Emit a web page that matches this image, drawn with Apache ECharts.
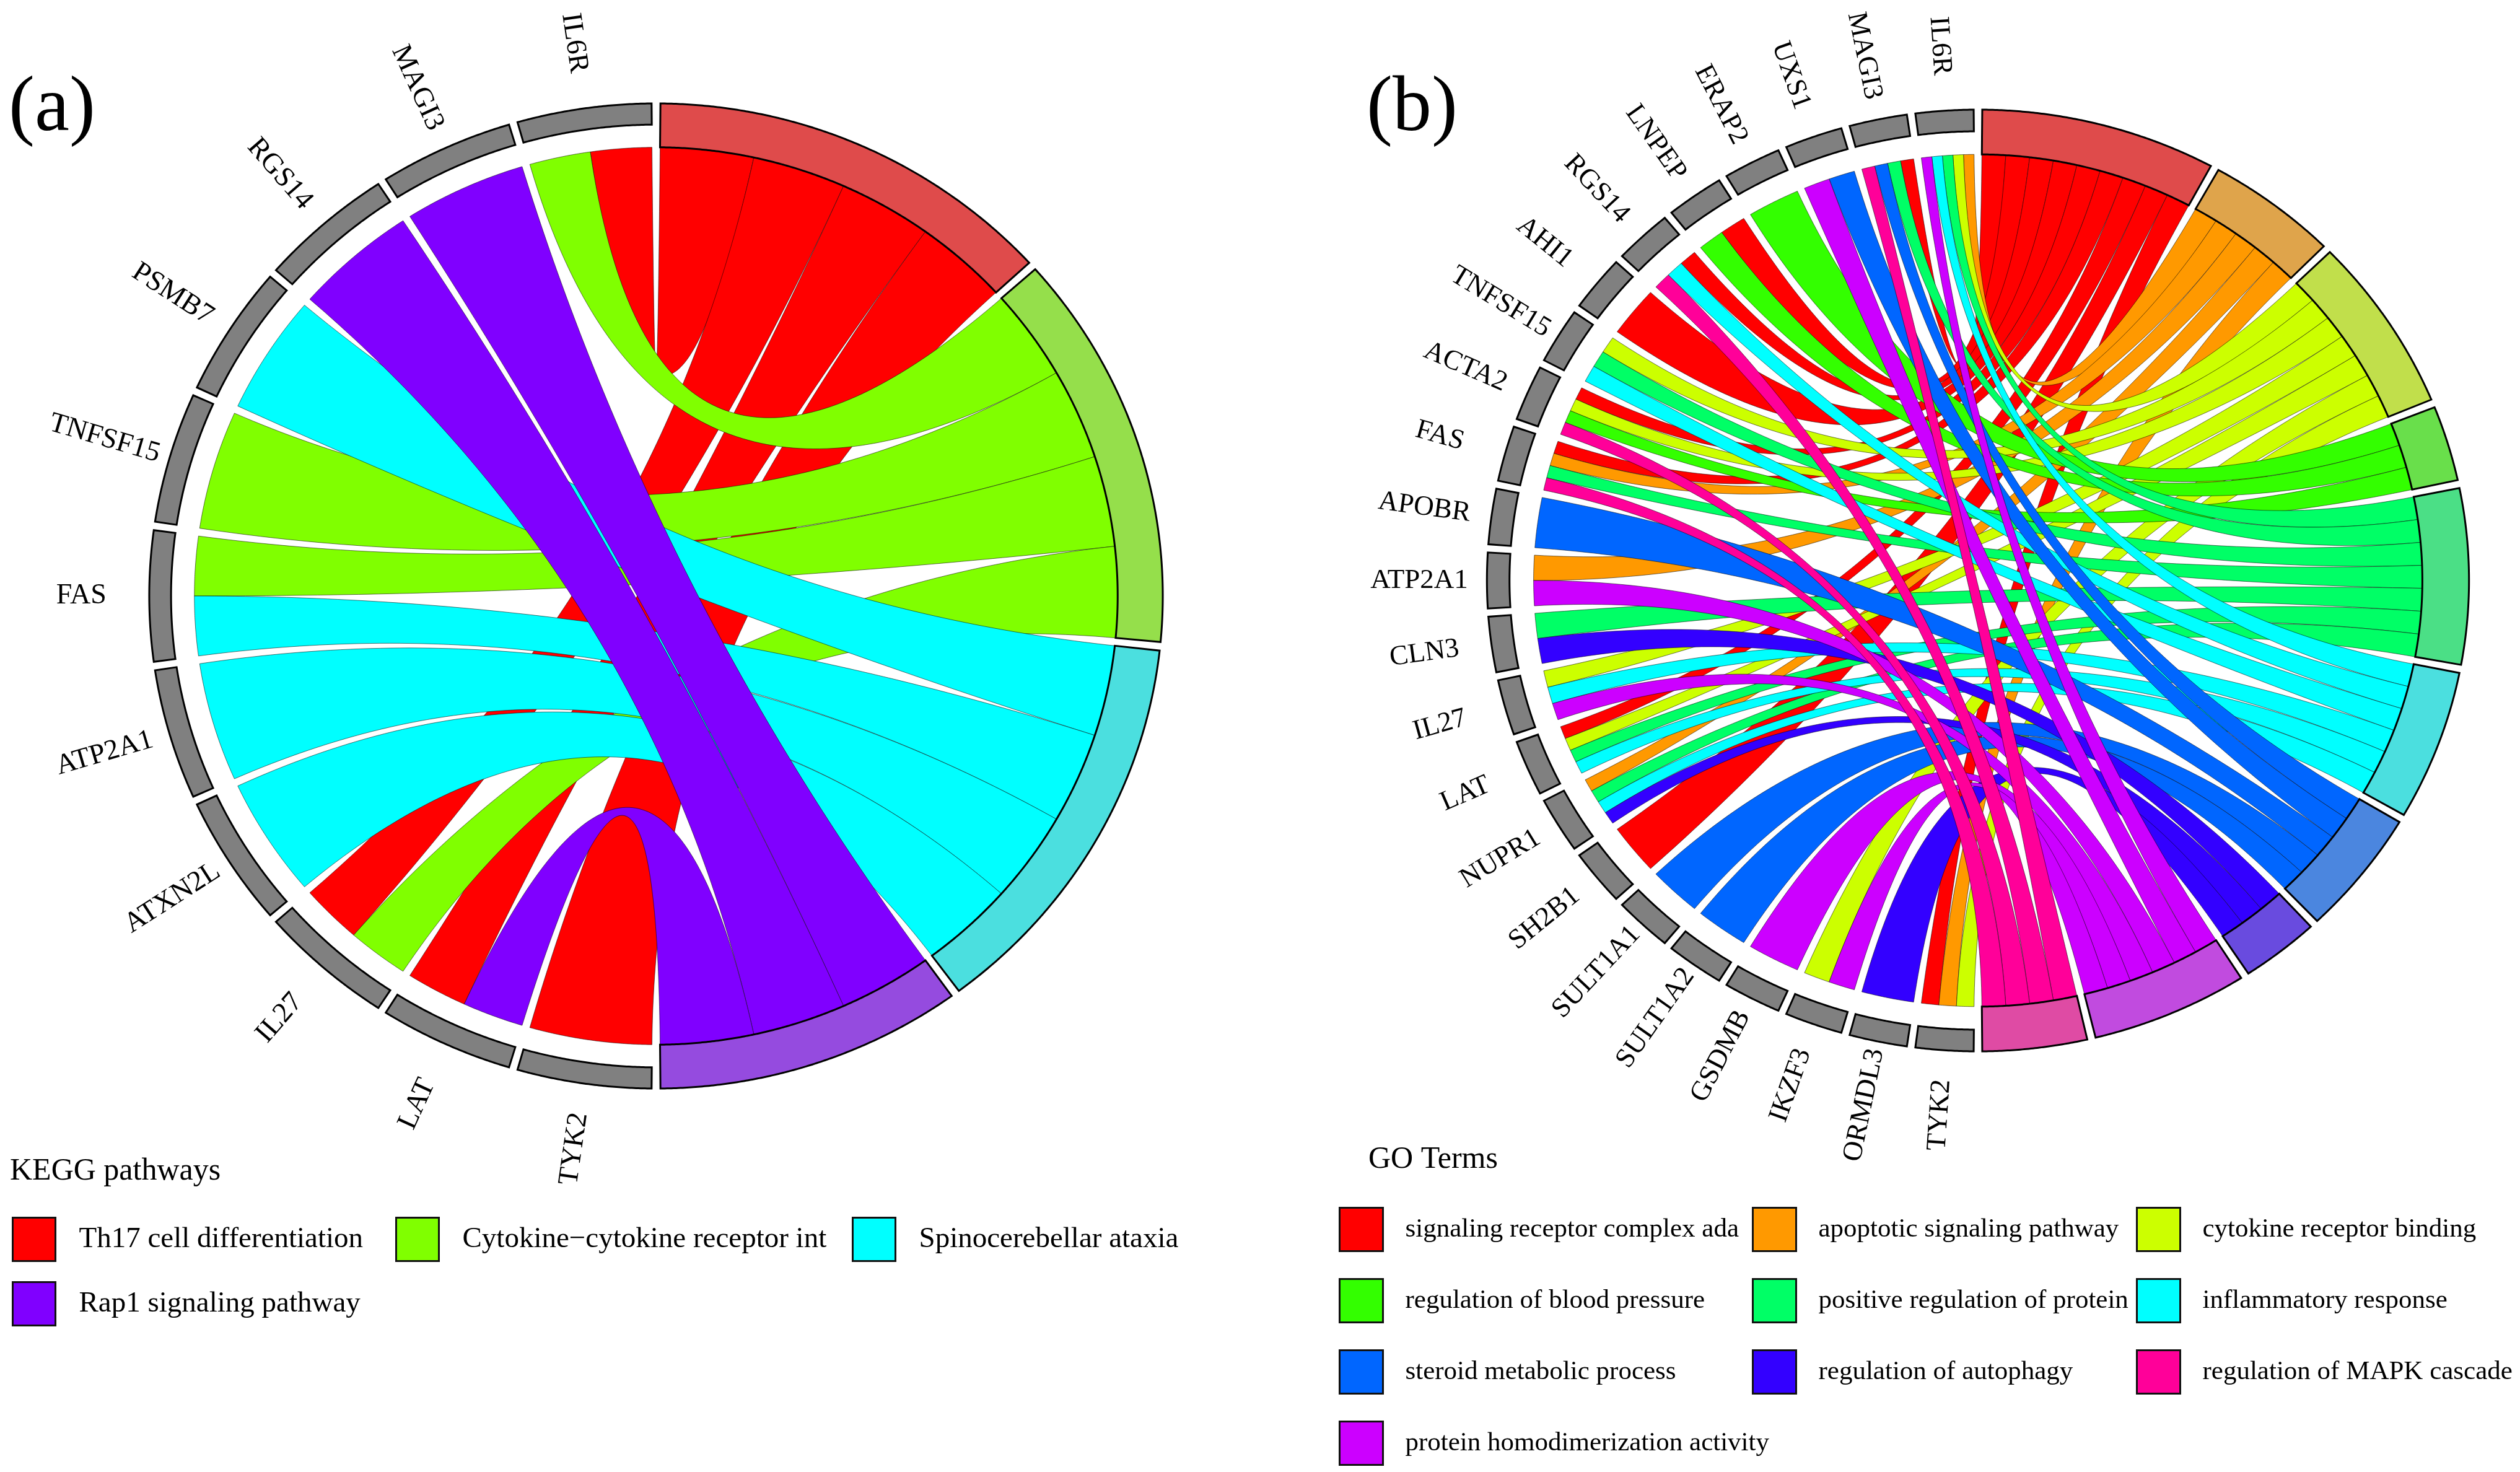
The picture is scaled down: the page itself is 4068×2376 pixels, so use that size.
<!DOCTYPE html>
<html>
<head>
<meta charset="utf-8">
<script src="https://cdn.jsdelivr.net/npm/echarts@6/dist/echarts.min.js"></script>
<style>html,body{margin:0;padding:0;background:#fff}#c{width:4068px;height:2376px}</style>
</head>
<body>
<div id="c"></div>
<script>
// ---------------- Panel (a): KEGG pathways ----------------
const keggGenes = ['IL6R','MAGI3','RGS14','PSMB7','TNFSF15','FAS','ATP2A1','ATXN2L','IL27','LAT','TYK2'];
const keggPathways = ['Th17 cell differentiation','Cytokine\u2212cytokine receptor int','Spinocerebellar ataxia','Rap1 signaling pathway'];
const keggColors = ['#FF0000','#80FF00','#00FFFF','#8000FF'];
const keggMembers = [
  ['IL6R','IL27','LAT','TYK2'],
  ['IL6R','TNFSF15','FAS','IL27'],
  ['PSMB7','FAS','ATP2A1','ATXN2L'],
  ['MAGI3','RGS14','LAT']
];
const keggLegendOrder = [0,1,2,3];

// ---------------- Panel (b): GO terms ----------------
const goGenes = ['IL6R','MAGI3','UXS1','ERAP2','LNPEP','RGS14','AHI1','TNFSF15','ACTA2','FAS','APOBR','ATP2A1','CLN3','IL27','LAT','NUPR1','SH2B1','SULT1A1','SULT1A2','GSDMB','IKZF3','ORMDL3','TYK2'];
const goTerms = ['signaling receptor complex ada','apoptotic signaling pathway','cytokine receptor binding','regulation of blood pressure','positive regulation of protein','inflammatory response','steroid metabolic process','regulation of autophagy','protein homodimerization activity','regulation of MAPK cascade'];
const goColors = ['#FF0000','#FF9900','#CCFF00','#33FF00','#00FF66','#00FFFF','#0066FF','#3300FF','#CC00FF','#FF0099'];
const goMembers = [
  ['MAGI3','LNPEP','RGS14','AHI1','ACTA2','FAS','LAT','SH2B1','TYK2'],
  ['IL6R','FAS','ATP2A1','NUPR1','TYK2'],
  ['IL6R','TNFSF15','ACTA2','IL27','LAT','IKZF3','TYK2'],
  ['ERAP2','LNPEP','ACTA2'],
  ['IL6R','MAGI3','TNFSF15','FAS','CLN3','LAT','NUPR1'],
  ['IL6R','RGS14','TNFSF15','IL27','LAT','NUPR1'],
  ['MAGI3','UXS1','APOBR','SULT1A1','SULT1A2'],
  ['CLN3','NUPR1','ORMDL3'],
  ['IL6R','UXS1','ATP2A1','IL27','GSDMB','IKZF3'],
  ['MAGI3','RGS14','ACTA2','FAS']
];
const goLegendOrder = [0,1,2,3,4,5,6,7,9,8];

// ---------------- styling / layout constants ----------------
const FONT = "'Liberation Serif','Times New Roman','DejaVu Serif',serif";
const GAP = 1; // degrees between sectors
const panels = [
  {id:'a', genes:keggGenes, terms:keggPathways, colors:keggColors, members:keggMembers, legendOrder:keggLegendOrder,
   polar:0, center:[1059,962], radius:795, sx:1.029, rc:0.911, rg:0.957, rl:1.134, labelFs:46,
   legend:{cols:[19,638,1375], top:1964, step:104, w:69, h:70, fs:47, padL:33, padT:18}},
  {id:'b', genes:goGenes, terms:goTerms, colors:goColors, members:goMembers, legendOrder:goLegendOrder,
   polar:1, center:[3193,937], radius:760, sx:1.043, rc:0.905, rg:0.954, rl:1.138, labelFs:45,
   legend:{cols:[2161,2828,3448], top:1948, step:115, w:70, h:70, fs:43, padL:31, padT:22}}
];

function bandColor(hex){
  const v = parseInt(hex.slice(1),16);
  const ch = [(v>>16)&255,(v>>8)&255,v&255].map(c=>Math.round(75+0.58*c));
  return 'rgb('+ch.join(',')+')';
}

function buildLayout(genes, members, gap){
  const nG = genes.length, nP = members.length;
  const nL = members.reduce((s,m)=>s+m.length,0);
  const gW = (180 - nG*gap)/nG;
  const lW = (180 - nP*gap)/nL;
  const pStart=[], pEnd=[];
  let a = gap/2;
  members.forEach((m,p)=>{ pStart[p]=a; pEnd[p]=a+m.length*lW; a=pEnd[p]+gap; });
  const gStart={}, gEnd={};
  genes.forEach((g,i)=>{ const k=nG-1-i; gStart[g]=180+gap/2+k*(gW+gap); gEnd[g]=gStart[g]+gW; });
  const gLinks={}; genes.forEach(g=>gLinks[g]=[]);
  members.forEach((m,p)=>m.forEach(g=>gLinks[g].push(p)));
  const gSlot={};
  genes.forEach(g=>{
    const ps=gLinks[g].slice().sort((x,y)=>y-x);
    const w=gW/ps.length;
    ps.forEach((p,j)=>{ gSlot[g+'|'+p]=[gStart[g]+j*w, gStart[g]+(j+1)*w]; });
  });
  const links=[];
  members.forEach((m,p)=>{
    const sorted=m.slice().sort((x,y)=>genes.indexOf(x)-genes.indexOf(y));
    sorted.forEach((g,j)=>{
      const s=gSlot[g+'|'+p];
      links.push({p:p, g:g, g0:s[0], g1:s[1], p0:pStart[p]+j*lW, p1:pStart[p]+(j+1)*lW});
    });
  });
  return {gStart, gEnd, pStart, pEnd, links};
}

function mkP(api, sx){
  const c = api.coord([0,0]);
  return function(r,a){ const p=api.coord([r,a]); return [c[0]+(p[0]-c[0])*sx, p[1]]; };
}
function arc(P, r, a0, a1){
  const n=Math.max(2, Math.ceil(Math.abs(a1-a0)/0.25));
  const pts=[];
  for(let i=0;i<=n;i++) pts.push(P(r, a0+(a1-a0)*i/n));
  return pts;
}
function quad(p0, c, p2, n){
  const pts=[];
  for(let i=1;i<n;i++){
    const t=i/n, u=1-t;
    pts.push([u*u*p0[0]+2*u*t*c[0]+t*t*p2[0], u*u*p0[1]+2*u*t*c[1]+t*t*p2[1]]);
  }
  return pts;
}

function makeSeries(panel){
  const L = buildLayout(panel.genes, panel.members, GAP);
  const out=[];
  out.push({
    type:'custom', name:panel.id+'-genes', coordinateSystem:'polar', polarIndex:panel.polar,
    silent:true, animation:false, clip:false,
    data: panel.genes.map(g=>[1, L.gStart[g], L.gEnd[g]]),
    renderItem:function(params, api){
      const P=mkP(api, panel.sx);
      const a0=api.value(1), a1=api.value(2);
      const seg=arc(P,1,a0,a1).concat(arc(P,panel.rg,a1,a0));
      const mid=(a0+a1)/2;
      const lp=P(panel.rl, mid);
      const phi=mid*Math.PI/180;
      const rot=Math.atan2(-Math.cos(phi), -Math.sin(phi));
      return {type:'group', children:[
        {type:'polygon', shape:{points:seg}, style:{fill:'#808080', stroke:'#000', lineWidth:3}},
        {type:'text', x:lp[0], y:lp[1], rotation:rot,
         style:{text:panel.genes[params.dataIndex], fill:'#000', fontSize:panel.labelFs, fontFamily:FONT, align:'center', verticalAlign:'middle'}}
      ]};
    }
  });
  panel.terms.forEach((t,p)=>{
    const items = L.links.filter(l=>l.p===p).map(l=>[1, l.p0, l.p1, l.g0, l.g1]);
    items.push([0, L.pStart[p], L.pEnd[p], 0, 0]);
    const col = panel.colors[p], bcol = bandColor(col);
    out.push({
      type:'custom', name:t, coordinateSystem:'polar', polarIndex:panel.polar,
      silent:true, animation:false, clip:false,
      itemStyle:{color:col},
      data: items,
      renderItem:function(params, api){
        const P=mkP(api, panel.sx);
        const kind=api.value(0);
        const a0=api.value(1), a1=api.value(2);
        if(kind===0){
          const pts=arc(P,1,a0,a1).concat(arc(P,panel.rc,a1,a0));
          return {type:'polygon', shape:{points:pts}, style:{fill:bcol, stroke:'#000', lineWidth:3}};
        }
        const b0=api.value(3), b1=api.value(4);
        const C=P(0,0), rc=panel.rc;
        let pts=arc(P,rc,a0,a1);
        pts=pts.concat(quad(P(rc,a1), C, P(rc,b0), 90));
        pts=pts.concat(arc(P,rc,b0,b1));
        pts=pts.concat(quad(P(rc,b1), C, P(rc,a0), 90));
        return {type:'polygon', shape:{points:pts}, style:{fill:col, stroke:'rgba(0,0,0,0.55)', lineWidth:1}};
      }
    });
  });
  return out;
}

function makeLegends(panel){
  const lg=panel.legend;
  return panel.legendOrder.map((p,k)=>({
    show:true, selectedMode:false, orient:'vertical', padding:0,
    left: lg.cols[k%3], top: lg.top + Math.floor(k/3)*lg.step,
    itemWidth: lg.w, itemHeight: lg.h, icon:'rect',
    itemStyle:{borderColor:'#111', borderWidth:3},
    textStyle:{fontFamily:FONT, fontSize:lg.fs, color:'#000', padding:[lg.padT,0,0,lg.padL]},
    data:[panel.terms[p]]
  }));
}

const chart = echarts.init(document.getElementById('c'), null, {renderer:'canvas'});
const option = {
  backgroundColor:'#fff',
  animation:false,
  polar: panels.map(p=>({center:p.center, radius:p.radius})),
  angleAxis: panels.map((p,i)=>({polarIndex:i, type:'value', min:0, max:360, startAngle:90, clockwise:true, show:false})),
  radiusAxis: panels.map((p,i)=>({polarIndex:i, type:'value', min:0, max:1, show:false})),
  legend: makeLegends(panels[0]).concat(makeLegends(panels[1])),
  graphic:[
    {type:'text', x:14, y:177, style:{text:'(a)', fontSize:126, fontFamily:FONT, fill:'#000', verticalAlign:'middle'}},
    {type:'text', x:2206, y:177, style:{text:'(b)', fontSize:126, fontFamily:FONT, fill:'#000', verticalAlign:'middle'}},
    {type:'text', x:16, y:1891, style:{text:'KEGG pathways', fontSize:50, fontFamily:FONT, fill:'#000', verticalAlign:'middle'}},
    {type:'text', x:2209, y:1872, style:{text:'GO Terms', fontSize:50, fontFamily:FONT, fill:'#000', verticalAlign:'middle'}}
  ],
  series: makeSeries(panels[0]).concat(makeSeries(panels[1]))
};
chart.setOption(option);
</script>
</body>
</html>
